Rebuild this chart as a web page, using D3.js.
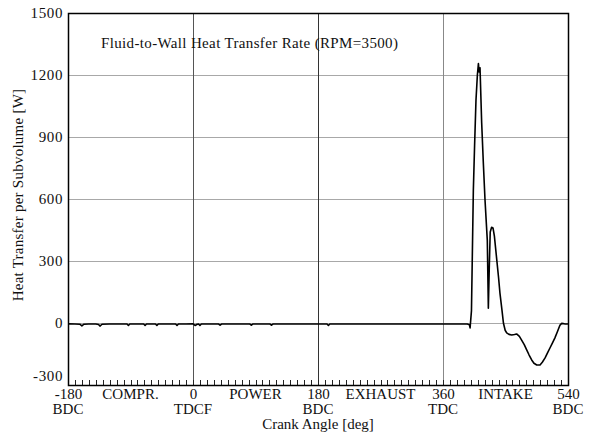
<!DOCTYPE html>
<html>
<head>
<meta charset="utf-8">
<script src="https://cdn.jsdelivr.net/npm/d3@7"></script>
<style>
  html, body { margin: 0; padding: 0; background: #fff; }
  svg { display: block; }
  svg text { font-family: "Liberation Serif", "Times New Roman", serif; fill: #111; font-size: 15px; }
</style>
</head>
<body>
<script>
// Crank angle [deg] and heat transfer per subvolume [W]
const crankAngle = [
  -180, -170, -163, -160, -157, -150, -140, -136, -134, -131, -120, -110, -100, -95, -93, -91,
  -80, -71, -69, -67, -60, -54, -52, -50, -40, -30, -25, -23, -21, -10, 0, 3, 6, 8, 10, 12,
  20, 30, 37, 39, 41, 60, 82, 84, 86, 100, 111, 113, 115, 150, 180, 193, 195, 197, 250, 300,
  350, 380, 395, 398, 399, 401, 403.7, 405.5, 407.5, 409.5, 411, 412, 413.3, 415.7, 418, 420.5,
  423.8, 425.3, 426.5, 428, 430, 432, 434, 437, 440, 442, 445, 447, 449.5, 451.7, 455, 459,
  463, 466, 470, 473, 477, 480.5, 484, 487.7, 491, 495, 499.7, 503, 507, 510.5, 514, 517.5,
  521, 525, 528.5, 531, 535, 540
];
const heatTransfer = [
  -4, -5, -6, -14, -6, -5, -5, -7, -15, -6, -5, -5, -5, -5, -12, -5,
  -5, -5, -12, -5, -5, -5, -12, -5, -5, -5, -5, -12, -5, -5, -4, -12, -6, -5, -12, -5,
  -5, -5, -5, -11, -5, -5, -5, -11, -5, -5, -5, -11, -5, -5, -5, -5, -12, -5, -5, -5,
  -5, -5, -5, -8, -24, 60, 644, 860, 1079, 1200, 1255, 1215, 1235, 968, 780, 595,
  400, 72, 250, 440, 463, 460, 420, 320, 220, 145, 60, 0, -35, -48, -55, -58,
  -56, -53, -65, -82, -105, -130, -155, -179, -195, -203, -203, -190, -169, -145, -121, -97,
  -73, -40, -10, -2, -4, -5
];

const yTicks = [-300, 0, 300, 600, 900, 1200, 1500];
const xTicks = [-180, 0, 180, 360, 540];
const xTickNames = ["BDC", "TDCF", "BDC", "TDC", "BDC"];
const strokeNames = ["COMPR.", "POWER", "EXHAUST", "INTAKE"];
const strokeCentres = [-90, 90, 270, 450];
const titleText = "Fluid-to-Wall Heat Transfer Rate (RPM=3500)";
const yTitle = "Heat Transfer per Subvolume [W]";
const xTitle = "Crank Angle [deg]";

const W = 589, H = 438;
const m = { left: 68, right: 21, top: 13, bottom: 53 };
const iw = W - m.left - m.right, ih = H - m.top - m.bottom;

const svg = d3.select("body").append("svg").attr("width", W).attr("height", H);
const g = svg.append("g").attr("transform", `translate(${m.left},${m.top})`);

const x = d3.scaleLinear().domain([-180, 540]).range([0, iw]);
const y = d3.scaleLinear().domain([-300, 1500]).range([ih, 0]);
const fmt = d => String(d); // plain hyphen-minus

// horizontal grid
g.selectAll("line.hgrid").data(yTicks.filter(v => v > -300 && v < 1500)).enter()
  .append("line").attr("class", "hgrid")
  .attr("x1", 0).attr("x2", iw)
  .attr("y1", d => Math.round(y(d)) + 0.5).attr("y2", d => Math.round(y(d)) + 0.5)
  .attr("stroke", "#a8a8a8").attr("stroke-width", 1);

// vertical grid at stroke boundaries
const vColors = { 0: "#555", 180: "#333", 360: "#888" };
g.selectAll("line.vgrid").data([0, 180, 360]).enter()
  .append("line").attr("class", "vgrid")
  .attr("x1", d => Math.round(x(d)) + 0.5).attr("x2", d => Math.round(x(d)) + 0.5)
  .attr("y1", 0).attr("y2", ih)
  .attr("stroke", d => vColors[d]).attr("stroke-width", 1);

// minor ticks every 10 deg, pointing up from the bottom axis
g.selectAll("line.minor").data(d3.range(-170, 540, 10)).enter()
  .append("line").attr("class", "minor")
  .attr("x1", d => Math.round(x(d)) + 0.5).attr("x2", d => Math.round(x(d)) + 0.5)
  .attr("y1", ih).attr("y2", ih - 5)
  .attr("stroke", "#222").attr("stroke-width", 1);

// frame
g.append("rect").attr("x", 0.5).attr("y", 0.5).attr("width", iw).attr("height", ih)
  .attr("fill", "none").attr("stroke", "#000").attr("stroke-width", 1.5);

// y axis labels (the lowest one is lifted clear of the angle labels)
const yAxis = d3.axisLeft(y).tickValues(yTicks).tickSize(0).tickPadding(5).tickFormat(fmt);
const ya = g.append("g").call(yAxis);
ya.select(".domain").remove();
ya.selectAll("text").attr("fill", "#111").style("letter-spacing", "0.6px")
  .attr("dy", d => d === -300 ? "-0.3em" : "0.32em");

// x axis labels (angles)
const xAxis = d3.axisBottom(x).tickValues(xTicks).tickSize(0).tickPadding(3).tickFormat(fmt);
const xa = g.append("g").attr("transform", `translate(0,${ih})`).call(xAxis);
xa.select(".domain").remove();
xa.selectAll("text").attr("fill", "#111");

// stroke names, on the same row as the angles
g.selectAll("text.stroke").data(strokeCentres).enter().append("text").attr("class", "stroke")
  .attr("x", d => x(d)).attr("y", ih + 14).attr("text-anchor", "middle")
  .text((d, i) => strokeNames[i]);

// dead-centre names under the angles
g.selectAll("text.tdc").data(xTicks).enter().append("text").attr("class", "tdc")
  .attr("x", d => x(d)).attr("y", ih + 29).attr("text-anchor", "middle")
  .text((d, i) => xTickNames[i]);

// axis titles
svg.append("text").attr("x", m.left + iw / 2).attr("y", H - 9).attr("text-anchor", "middle")
  .text(xTitle);
svg.append("text").attr("transform", `translate(23,${m.top + ih / 2 - 4}) rotate(-90)`)
  .attr("text-anchor", "middle").style("letter-spacing", "0.25px").text(yTitle);

// chart title
g.append("text").attr("x", 33).attr("y", 35).style("letter-spacing", "0.35px").text(titleText);

// heat transfer curve
const line = d3.line().x((d, i) => x(crankAngle[i])).y(d => y(d));
g.append("path").datum(heatTransfer).attr("d", line)
  .attr("fill", "none").attr("stroke", "#000").attr("stroke-width", 1.6)
  .attr("stroke-linejoin", "round");
</script>
</body>
</html>
